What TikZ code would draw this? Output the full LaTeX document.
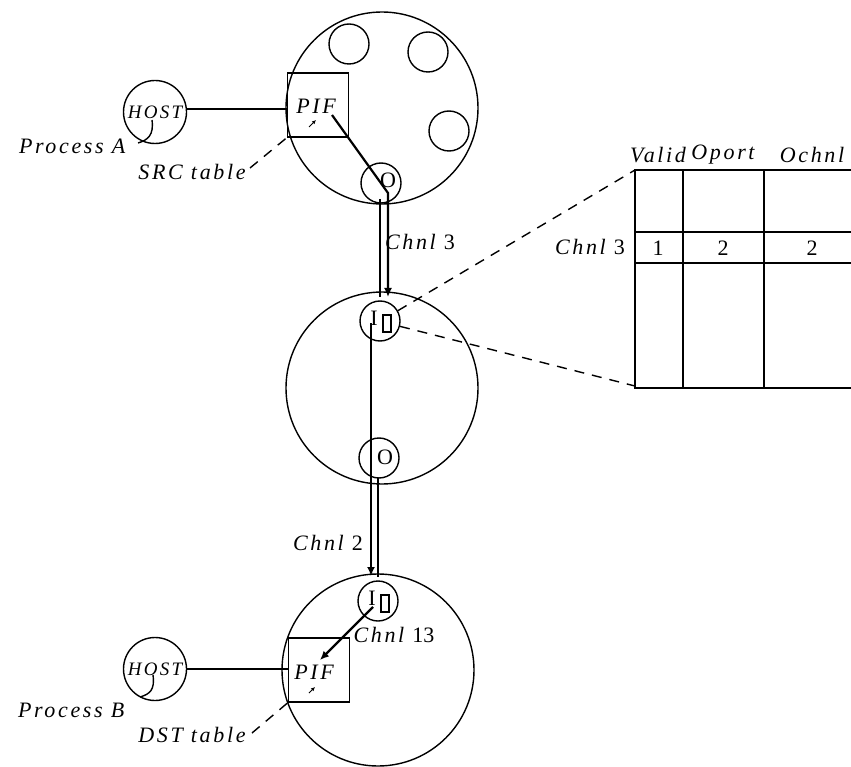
\documentclass[tikz,border=0pt]{standalone}
\usepackage{fontspec}
\setmainfont{Liberation Serif}
\newfontfamily\lblfont[LetterSpace=12]{Liberation Serif}
\usepackage{tikz}
\usetikzlibrary{arrows.meta, calc}
\tikzset{
    bignode/.style={circle, draw, line width=1.4pt, minimum size=192pt, inner sep=0pt},
    port/.style={circle, draw, line width=1.4pt, minimum size=40pt, inner sep=0pt},
    hostnode/.style={circle, draw, line width=1.4pt, minimum size=63pt, inner sep=0pt,
        font=\lblfont\itshape\fontsize{19}{21}\selectfont},
    pifbox/.style={draw, line width=1.4pt, minimum width=61pt, minimum height=64pt, inner sep=0pt},
    lbl/.style={font=\lblfont\itshape\fontsize{22}{25}\selectfont, inner sep=1pt},
    numlbl/.style={font=\fontsize{22}{25}\selectfont, inner sep=1pt},
    chan/.style={line width=2.2pt},
    tbl/.style={line width=2.6pt},
    zoomline/.style={line width=1.4pt, dash pattern=on 10pt off 8pt}
}
\begin{document}
\begin{tikzpicture}[x=1pt, y=-1pt, line width=1.4pt]
    \useasboundingbox (0,0) rectangle (851,767);

    % source node (Process A)
    \node[bignode] (src) at (382,108) {};
    \foreach \x/\y in {349/44, 428/52, 449/131}
        \node[port] at (\x,\y) {};
    \node[pifbox] (srcpif) at (318,105) {};
    \node[lbl] at (316,106) {PIF};
    \draw[-{Latex[length=4pt,width=4pt]}, line width=0.9pt] (309,127) -- (316,120);
    \node[port] (srcout) at (381,183) {};
    \node[numlbl] at (388,180) {O};
    \node[hostnode] (hostA) at (155,112) {HOST};
    \draw[chan] (hostA.east |- 0,109) -- (srcpif.west |- 0,109);
    \coordinate (hookA) at (138,143);
    \draw (152,120) .. controls (154,135) and (148,140) .. (hookA);
    \node[lbl, anchor=east] (procA) at (127,146) {Process A};
    \node[lbl] (srctab) at (192,172) {SRC table};
    \draw[zoomline] (250,168) -- (srcpif.south west);

    % intermediate node
    \node[bignode] (mid) at (382,388) {};
    \node[port] (midin) at (380,321) {};
    \node[numlbl] at (374,318) {I};
    \draw (383,315) rectangle (391,332);
    \node[port] (midout) at (379,458) {};
    \node[numlbl] at (385,457) {O};

    % destination node (Process B)
    \node[bignode] (dst) at (378,670) {};
    \node[port] (dstin) at (378,601) {};
    \node[numlbl] at (372,598) {I};
    \draw (381,595) rectangle (389,612);
    \node[pifbox] (dstpif) at (319,670) {};
    \node[lbl] at (314,672) {PIF};
    \draw[-{Latex[length=4pt,width=4pt]}, line width=0.9pt] (309,693) -- (315,687);
    \node[hostnode] (hostB) at (155,669) {HOST};
    \draw[chan] (hostB.east) -- (hostB.east -| dstpif.west);
    \coordinate (hookB) at (140,697);
    \draw (153,675) .. controls (155,690) and (150,694) .. (hookB);
    \node[lbl, anchor=east] (procB) at (126,710) {Process B};
    \node[lbl] (dsttab) at (192,735) {DST table};
    \draw[zoomline] (252,733) -- (dstpif.south west);

    % channels
    \coordinate (c1) at (332,115);
    \coordinate (c2) at (388,193);
    \coordinate (c3) at (388,297);
    \draw[chan, -{Latex[length=9pt,width=8pt]}] (c1) -- (c2) -- (c3);
    \draw[chan] (380,199) -- (380,297);
    \node[lbl] at (420,242) {Chnl \normalfont 3};
    \coordinate (c4) at (371,323);
    \coordinate (c5) at (371,576);
    \draw[chan, -{Latex[length=9pt,width=8pt]}] (c4) -- (c5);
    \draw[chan] (378,478) -- (378,577);
    \node[lbl] at (328,543) {Chnl \normalfont 2};
    \coordinate (c6) at (373,607);
    \coordinate (c7) at (320,660);
    \draw[chan, -{Latex[length=9pt,width=8pt]}] (c6) -- (c7);
    \node[lbl] at (394,635) {Chnl \normalfont 13};

    % routing table of the intermediate node
    \coordinate (tl) at (635,170);
    \coordinate (bl) at (635,386);
    \draw[tbl] (851,170) -- (tl) -- (635,388) -- (851,388);
    \foreach \x in {683,764}
        \draw[tbl] (\x,170) -- (\x,388);
    \foreach \y in {232,263}
        \draw[chan] (635,\y) -- (851,\y);
    \foreach \x/\head/\val in {658/Valid/1, 723/Oport/2, 812/Ochnl/2} {
        \node[lbl] at (\x,155) {\head};
        \node[numlbl] at (\x,248) {\val};
    }
    \node[lbl] at (590,247) {Chnl \normalfont 3};
    \draw[zoomline] (midin.30) -- (tl);
    \draw[zoomline] (midin.-15) -- (bl);
\end{tikzpicture}
\end{document}
